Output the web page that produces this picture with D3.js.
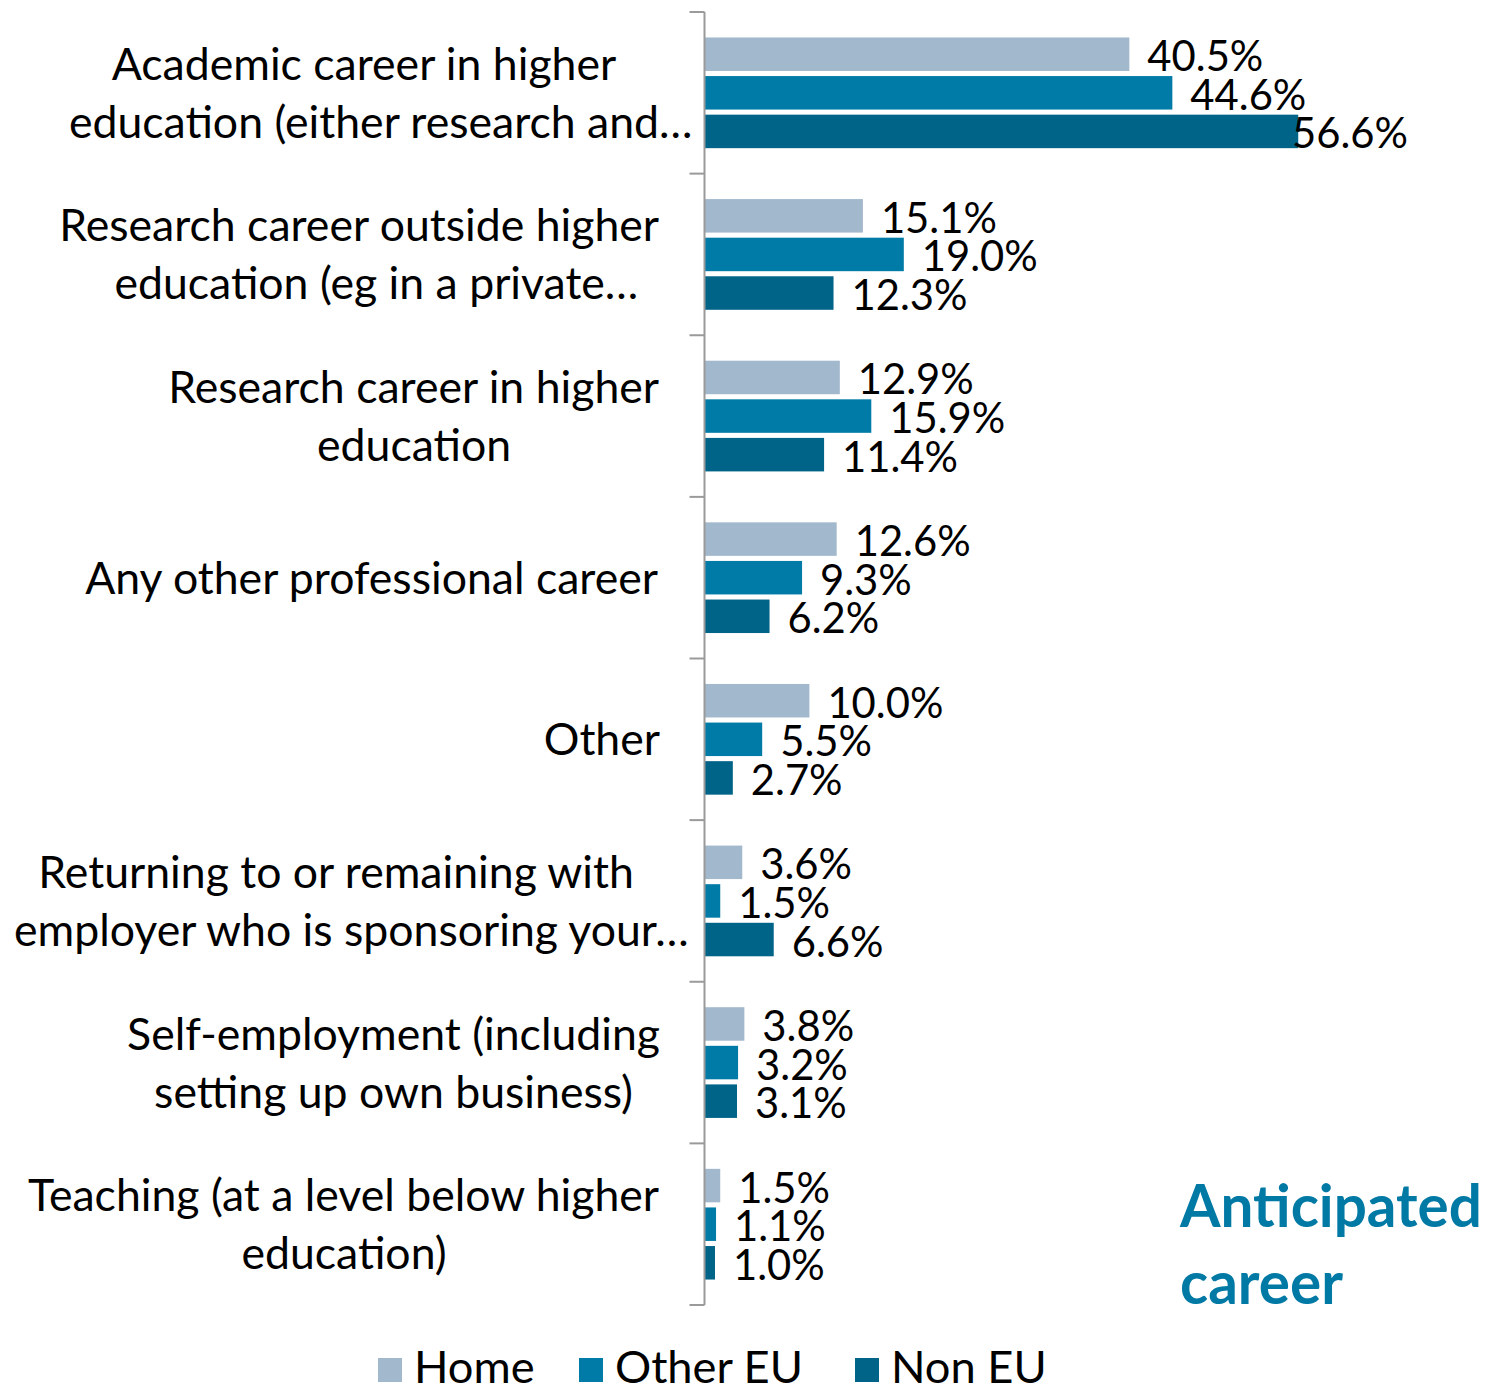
<!DOCTYPE html>
<html>
<head>
<meta charset="utf-8">
<script src="https://cdn.jsdelivr.net/npm/d3@7"></script>
<style>
  html, body { margin: 0; padding: 0; background: #fff; }
  svg { display: block; }
</style>
</head>
<body>
<svg id="chart" width="1489" height="1390"></svg>
<script>
// Anticipated career, by student domicile (percent of respondents)
const categories = [
  ["Academic career in higher", "education (either research and\u2026"],
  ["Research career outside higher", "education (eg in a private\u2026"],
  ["Research career in higher", "education"],
  ["Any other professional career"],
  ["Other"],
  ["Returning to or remaining with", "employer who is sponsoring your\u2026"],
  ["Self-employment (including", "setting up own business)"],
  ["Teaching (at a level below higher", "education)"]
];
const seriesNames = ["Home", "Other EU", "Non EU"];
const homeValues    = [40.5, 15.1, 12.9, 12.6, 10.0, 3.6, 3.8, 1.5];
const otherEuValues = [44.6, 19.0, 15.9,  9.3,  5.5, 1.5, 3.2, 1.1];
const nonEuValues   = [56.6, 12.3, 11.4,  6.2,  2.7, 6.6, 3.1, 1.0];
const seriesColors  = ["#A2B8CC", "#007BA7", "#006388"];
const titleLines = ["Anticipated", "career"];

const seriesValues = [homeValues, otherEuValues, nonEuValues];
const rows = categories.map((lines, i) => ({
  key: i,
  lines,
  values: seriesNames.map((s, j) => ({ series: s, value: seriesValues[j][i] }))
}));

const FONT = "Lato, 'Open Sans', 'DejaVu Sans', sans-serif";
const svg = d3.select("#chart");

// text measurement helper
const ctx = document.createElement("canvas").getContext("2d");
function measure(text, size, weight) {
  ctx.font = `${weight || "normal"} ${size}px ${FONT}`;
  return ctx.measureText(text).width;
}
// pick a font size so a reference string spans a given width
function fitSize(text, width, weight) {
  return 100 * width / measure(text, 100, weight);
}
const catSize = fitSize("Any other professional career", 575);
const valSize = fitSize("40.5%", 116);
const legSize = fitSize("Other EU", 189);
const titleSize = fitSize("Anticipated", 302, "bold");

// scales
const plotTop = 12, plotBottom = 1305, axisX = 704.5;
const x = d3.scaleLinear().domain([0, 60]).range([axisX, axisX + 60 * 10.49]);
const y = d3.scaleBand().domain(rows.map(r => r.key)).range([plotTop, plotBottom]).paddingInner(0).paddingOuter(0);
const inner = 110.7;
const yOff = (y.bandwidth() - inner) / 2;
const ySeries = d3.scaleBand().domain(seriesNames).range([yOff, yOff + inner]).paddingInner(0.132).paddingOuter(0);
const color = d3.scaleOrdinal().domain(seriesNames).range(seriesColors);

// bars
const groups = svg.append("g").selectAll("g.cat")
  .data(rows).join("g")
  .attr("class", "cat")
  .attr("transform", d => `translate(0,${y(d.key)})`);

groups.selectAll("rect")
  .data(d => d.values).join("rect")
  .attr("x", x(0))
  .attr("y", d => ySeries(d.series))
  .attr("width", d => x(d.value) - x(0))
  .attr("height", ySeries.bandwidth())
  .attr("fill", d => color(d.series));

// value labels
const labelMaxX = 1292;
groups.selectAll("text.val")
  .data(d => d.values).join("text")
  .attr("class", "val")
  .attr("x", d => Math.min(x(d.value) + 18, labelMaxX))
  .attr("y", d => ySeries(d.series) + ySeries.bandwidth() / 2 + 17)
  .attr("font-family", FONT)
  .attr("font-size", valSize)
  .attr("fill", "#000")
  .text(d => d3.format(".1f")(d.value) + "%");

// category axis
const axis = d3.axisLeft(y).tickSize(0).tickFormat("");
const axisG = svg.append("g").attr("transform", `translate(${axisX},0)`).call(axis);
axisG.select(".domain").remove();
axisG.append("line")
  .attr("x1", 0).attr("x2", 0).attr("y1", plotTop).attr("y2", plotBottom)
  .attr("stroke", "#9A9A9A").attr("stroke-width", 2);
const boundaries = y.domain().map(k => y(k)).concat([plotBottom]);
axisG.selectAll("line.tick-mark")
  .data(boundaries).join("line")
  .attr("class", "tick-mark")
  .attr("x1", -15).attr("x2", 0)
  .attr("y1", d => d).attr("y2", d => d)
  .attr("stroke", "#9A9A9A").attr("stroke-width", 2);

// category labels: each block centred on its widest line, right edge at 660
const labelRight = 660, lineStep = 58, capHalf = catSize * 0.36;
const catG = svg.append("g");
rows.forEach(r => {
  const core = r.lines.map(l => l.replace(/\u2026$/, ""));
  const widths = core.map(l => measure(l, catSize));
  const blockW = d3.max(widths);
  const cx = labelRight - blockW / 2;
  const cy = y(r.key) + y.bandwidth() / 2;
  const n = r.lines.length;
  r.lines.forEach((line, i) => {
    catG.append("text")
      .attr("x", cx - widths[i] / 2)
      .attr("y", cy + capHalf + (i - (n - 1) / 2) * lineStep)
      .attr("font-family", FONT)
      .attr("font-size", catSize)
      .attr("fill", "#000")
      .text(line);
  });
});

// chart title, lower right
svg.append("g").selectAll("text")
  .data(titleLines).join("text")
  .attr("x", 1180)
  .attr("y", (d, i) => 1227 + i * 77)
  .attr("font-family", FONT)
  .attr("font-weight", "bold")
  .attr("font-size", titleSize)
  .attr("fill", "#0079A5")
  .text(d => d);

// legend
const legendX = [378, 579, 855];
const legend = svg.append("g").selectAll("g")
  .data(seriesNames).join("g")
  .attr("transform", (d, i) => `translate(${legendX[i]},1358)`);
legend.append("rect")
  .attr("width", 24).attr("height", 24)
  .attr("fill", d => color(d));
legend.append("text")
  .attr("x", 36).attr("y", 25)
  .attr("font-family", FONT)
  .attr("font-size", legSize)
  .attr("fill", "#000")
  .text(d => d);
</script>
</body>
</html>
